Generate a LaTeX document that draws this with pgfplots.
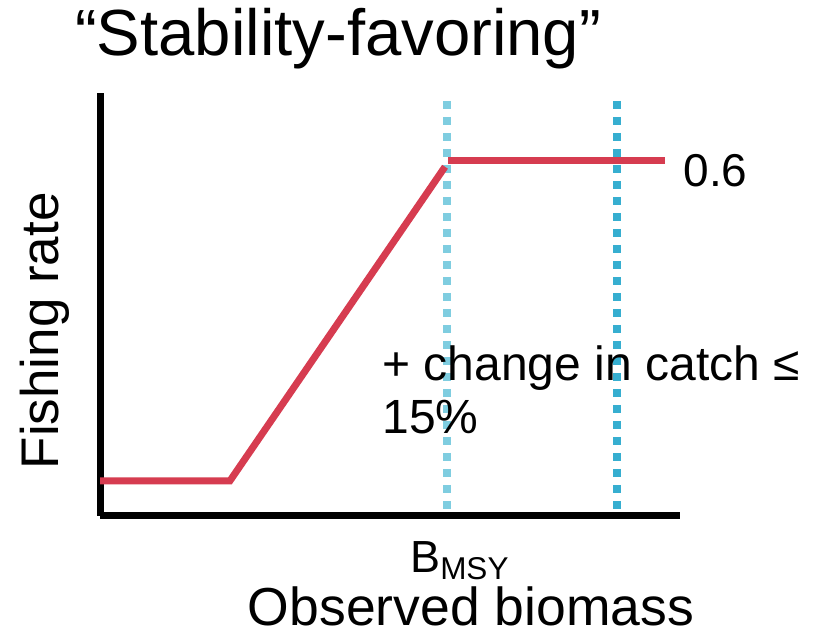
\documentclass[border=0pt]{standalone}
\usepackage{pgfplots}
\pgfplotsset{compat=1.18}
\usepackage{fontspec}
\setmainfont{Liberation Sans}
\definecolor{redl}{HTML}{D63C50}
\definecolor{lblue}{HTML}{7FCDE0}
\definecolor{dblue}{HTML}{36AED0}
\begin{document}
\begin{tikzpicture}[x=1pt,y=1pt]
\begin{axis}[
  scale only axis,
  width=232pt, height=169.2pt,
  xmin=100, xmax=680, ymin=112, ymax=535,
  axis x line=bottom, axis y line=left,
  axis line style={-, line width=2.8pt, black},
  xtick=\empty, ytick=\empty,
  clip=false,
]
\path (axis cs:0,0) rectangle (axis cs:825,627);
\addplot[lblue, line width=3.2pt, dash pattern=on 3.2pt off 3.2pt] coordinates {(447,527) (447,117)};
\addplot[dblue, line width=3.2pt, dash pattern=on 3.2pt off 3.2pt] coordinates {(617,527) (617,117)};
\addplot[redl, line width=2.8pt] coordinates {(100,147) (230,147) (445,461)};
\addplot[redl, line width=2.8pt] coordinates {(448,467) (665,467)};
\node[font=\fontsize{26.1}{30}\selectfont] at (axis cs:338,589) {“Stability-favoring”};
\node[font=\fontsize{21.2}{25}\selectfont, rotate=90] at (axis cs:45,297) {Fishing rate};
\node[font=\fontsize{21.4}{25}\selectfont] at (axis cs:471,21) {Observed biomass};
\node[font=\fontsize{18}{21}\selectfont, inner sep=0pt] at (axis cs:460,67) {B\textsubscript{MSY}};
\node[font=\fontsize{18.4}{22}\selectfont, anchor=west, inner sep=0pt] at (axis cs:683,457) {0.6};
\node[font=\fontsize{19.2}{21.2}\selectfont, anchor=north west, align=left, inner sep=0pt] at (axis cs:382,283) {+ change in catch ≤\\15\%};
\end{axis}
\end{tikzpicture}
\end{document}
